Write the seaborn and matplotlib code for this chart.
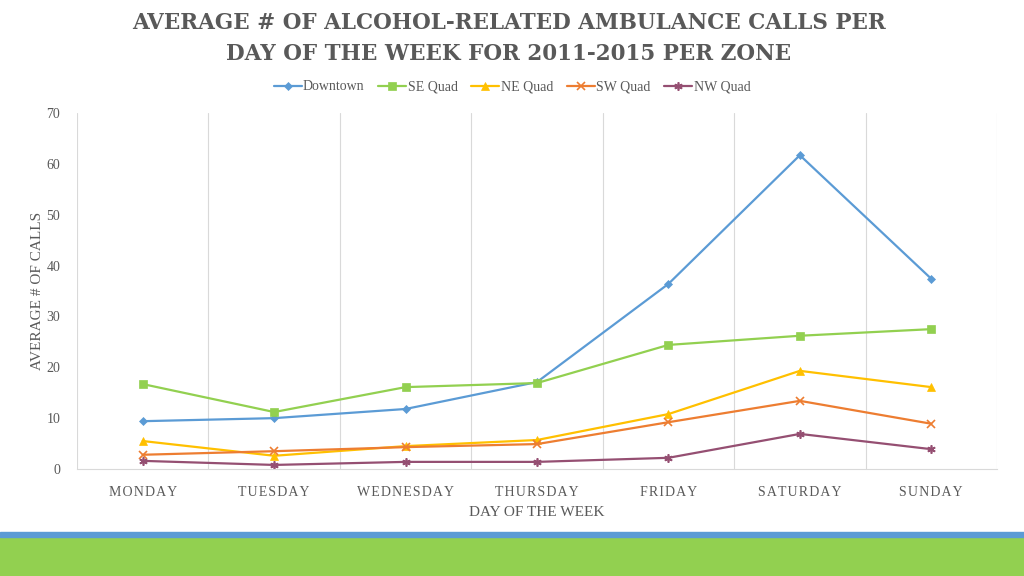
import pandas as pd
import matplotlib.pyplot as plt
import seaborn as sns
from matplotlib.patches import Rectangle

# Data
days = ['MONDAY', 'TUESDAY', 'WEDNESDAY', 'THURSDAY', 'FRIDAY', 'SATURDAY', 'SUNDAY']
downtown = [9.4, 10.0, 11.8, 17.1, 36.4, 61.7, 37.4]
se_quad = [16.7, 11.2, 16.1, 16.9, 24.4, 26.2, 27.5]
ne_quad = [5.5, 2.6, 4.5, 5.7, 10.8, 19.3, 16.1]
sw_quad = [2.8, 3.5, 4.3, 4.9, 9.2, 13.4, 8.9]
nw_quad = [1.6, 0.8, 1.4, 1.4, 2.2, 6.9, 3.9]
zones = ['Downtown', 'SE Quad', 'NE Quad', 'SW Quad', 'NW Quad']

series = [downtown, se_quad, ne_quad, sw_quad, nw_quad]
colors = ['#5B9BD5', '#92D050', '#FFC000', '#ED7D31', '#954F72']
markers = ['D', 's', '^', 'x', (6, 2, 0)]
msizes = [4, 6, 6, 6, 6]

sns.set_style('white')
plt.rcParams['font.family'] = ['Liberation Serif', 'DejaVu Serif']
text_col = '#595959'

fig = plt.figure(figsize=(10.24, 5.76), dpi=100)
ax = fig.add_axes([77 / 1024, 107 / 576, 920 / 1024, 356 / 576])

pos = list(range(len(days)))
for name, vals, c, m, ms in zip(zones, series, colors, markers, msizes):
    sns.lineplot(x=pos, y=vals, ax=ax, color=c, marker=m, markersize=ms,
                 markeredgecolor=c, markeredgewidth=1.2 if m in ('x', (6, 2, 0)) else 0.5,
                 linewidth=1.6, label=name)

ax.set_xlim(-0.5, 6.5)
ax.set_ylim(0, 70)
ax.set_yticks(range(0, 71, 10))
ax.set_xticks(pos)
ax.set_xticklabels(['\u200a'.join(d) for d in days])
ax.tick_params(axis='both', length=0, colors=text_col, labelsize=10)
ax.tick_params(axis='x', pad=12)
ax.tick_params(axis='y', pad=12)

# vertical category separators
for b in [x - 0.5 for x in range(8)]:
    ax.axvline(b, color='#D9D9D9', linewidth=0.8, zorder=0)
for s in ['top', 'left', 'right']:
    ax.spines[s].set_visible(False)
ax.spines['bottom'].set_color('#D9D9D9')

ax.set_xlabel('DAY OF THE WEEK', color=text_col, fontsize=11, labelpad=5)
ax.set_ylabel('AVERAGE # OF CALLS', color=text_col, fontsize=11, labelpad=2)

handles, labels = ax.get_legend_handles_labels()
ax.get_legend().remove()
fig.legend(handles, labels, loc='center', bbox_to_anchor=(0.5, 1 - 87 / 576), ncol=5,
           frameon=False, fontsize=10, handlelength=2.0, handletextpad=0.1,
           columnspacing=1.0, labelcolor=text_col)

title_font = dict(ha='center', va='center', fontsize=15.5, fontweight='bold',
                  color=text_col, family='DejaVu Serif')
fig.text(0.497, 0.960, 'AVERAGE # OF ALCOHOL-RELATED AMBULANCE CALLS PER', **title_font)
fig.text(0.497, 0.906, 'DAY OF THE WEEK FOR 2011-2015 PER ZONE', **title_font)

# bottom decorative bands
fig.patches.append(Rectangle((0, 0), 1, 39 / 576, transform=fig.transFigure,
                             color='#92D050', zorder=0))
fig.patches.append(Rectangle((0, 39 / 576), 1, 5 / 576, transform=fig.transFigure,
                             color='#5B9BD5', zorder=0))

fig.savefig('out.png', dpi=100)
